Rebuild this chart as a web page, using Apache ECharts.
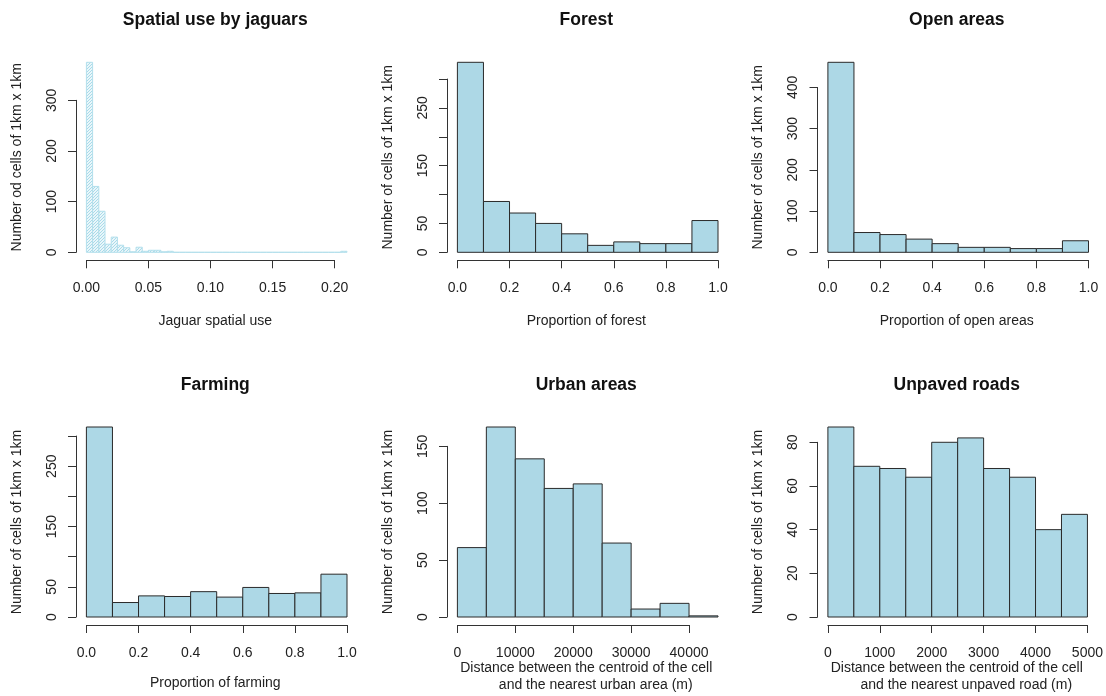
<!DOCTYPE html>
<html>
<head>
<meta charset="utf-8">
<script src="https://cdn.jsdelivr.net/npm/echarts@6/dist/echarts.min.js"></script>
<style>
  html, body { margin: 0; padding: 0; background: #ffffff; }
  #chart { width: 1106px; height: 696px; }
</style>
</head>
<body>
<div id="chart"></div>
<script>
// ---- Histogram data: bin width + counts per bin (bins start at 0) ----
const jaguarBinWidth = 0.005;
const jaguarCounts = [375, 130, 81, 16, 30, 14, 9, 1, 10, 2, 4, 4, 1, 2,
  0, 0, 0, 0, 0, 0, 0, 0, 0, 0, 0, 0, 0, 0, 0, 0, 0, 0, 0, 0, 0, 0, 0, 0, 0, 0, 0,
  2];

const forestBinWidth = 0.1;
const forestCounts = [329, 88, 68, 50, 32, 12, 18, 15, 15, 55];

const openBinWidth = 0.1;
const openCounts = [461, 48, 43, 32, 21, 12, 12, 9, 9, 28];

const farmingBinWidth = 0.1;
const farmingCounts = [315, 24, 35, 34, 42, 33, 49, 39, 40, 71];

const urbanBinWidth = 5000;
const urbanCounts = [61, 167, 139, 113, 117, 65, 7, 12, 1];

const roadsBinWidth = 500;
const roadsCounts = [87, 69, 68, 64, 80, 82, 68, 64, 40, 47];

// ---- Tick labels (one entry per tick, '' = tick without label) ----
const jaguarXTickLabels = ['0.00', '0.05', '0.10', '0.15', '0.20'];
const proportionXTickLabels = ['0.0', '0.2', '0.4', '0.6', '0.8', '1.0'];
const urbanXTickLabels = ['0', '10000', '20000', '30000', '40000'];
const roadsXTickLabels = ['0', '1000', '2000', '3000', '4000', '5000'];

const jaguarYTickLabels = ['0', '100', '200', '300'];
const forestYTickLabels = ['0', '50', '', '150', '', '250', ''];
const openYTickLabels = ['0', '100', '200', '300', '400'];
const farmingYTickLabels = ['0', '50', '', '150', '', '250', ''];
const urbanYTickLabels = ['0', '50', '100', '150'];
const roadsYTickLabels = ['0', '20', '40', '60', '80'];

// ---- Text ----
const panelTitles = ['Spatial use by jaguars', 'Forest', 'Open areas',
  'Farming', 'Urban areas', 'Unpaved roads'];
const yTitles = ['Number od cells of 1km x 1km', 'Number of cells of 1km x 1km',
  'Number of cells of 1km x 1km', 'Number of cells of 1km x 1km',
  'Number of cells of 1km x 1km', 'Number of cells of 1km x 1km'];
const xTitles = [
  ['Jaguar spatial use'],
  ['Proportion of forest'],
  ['Proportion of open areas'],
  ['Proportion of farming'],
  ['Distance between the centroid of the cell', 'and the nearest urban area (m)'],
  ['Distance between the centroid of the cell', 'and the nearest unpaved road (m)']
];

// ---- Layout (base-graphics style: axes detached from the data region) ----
const FONT = '"Liberation Sans", Arial, Helvetica, sans-serif';
const TEXT = '#222222';
const AXIS = '#333333';
const COL_AXIS_X = [76, 447, 817.5];   // x of the y-axis line per column
const ROW_ZERO_Y = [252.3, 617];       // y of the count = 0 level per row
const PAD_X = 10.4;                    // gap y-axis line -> first bin
const DATA_W = 260.6;                  // width of the full binned range
const DATA_H = 190;                    // height of the tallest bin
const X_AXIS_OFF = 8;                  // gap count = 0 level -> x-axis line
const PLOT_W = 281.5;

const panels = [
  { counts: jaguarCounts, bw: jaguarBinWidth, xInt: 0.05, xLabels: jaguarXTickLabels,
    yInt: 100, yLabels: jaguarYTickLabels, hatched: true },
  { counts: forestCounts, bw: forestBinWidth, xInt: 0.2, xLabels: proportionXTickLabels,
    yInt: 50, yLabels: forestYTickLabels },
  { counts: openCounts, bw: openBinWidth, xInt: 0.2, xLabels: proportionXTickLabels,
    yInt: 100, yLabels: openYTickLabels },
  { counts: farmingCounts, bw: farmingBinWidth, xInt: 0.2, xLabels: proportionXTickLabels,
    yInt: 50, yLabels: farmingYTickLabels },
  { counts: urbanCounts, bw: urbanBinWidth, xInt: 10000, xLabels: urbanXTickLabels,
    yInt: 50, yLabels: urbanYTickLabels },
  { counts: roadsCounts, bw: roadsBinWidth, xInt: 1000, xLabels: roadsXTickLabels,
    yInt: 20, yLabels: roadsYTickLabels }
];

// Fine diagonal hatching used for the shaded histogram
function makeHatch() {
  const s = 3;
  const cv = document.createElement('canvas');
  cv.width = s; cv.height = s;
  const g = cv.getContext('2d');
  g.fillStyle = '#eaf6fa';
  g.fillRect(0, 0, s, s);
  g.strokeStyle = '#a9dbe9';
  g.lineWidth = 1;
  g.beginPath();
  g.moveTo(0, s); g.lineTo(s, 0);
  g.moveTo(-1, 1); g.lineTo(1, -1);
  g.moveTo(s - 1, s + 1); g.lineTo(s + 1, s - 1);
  g.stroke();
  return cv;
}
const hatchFill = { image: makeHatch(), repeat: 'repeat' };

function histRenderer(fill, stroke) {
  return function (params, api) {
    const a = api.coord([api.value(0), 0]);
    const b = api.coord([api.value(1), api.value(2)]);
    return {
      type: 'rect',
      shape: { x: a[0], y: b[1], width: b[0] - a[0], height: a[1] - b[1] },
      style: { fill: fill, stroke: stroke, lineWidth: 1 }
    };
  };
}

const grids = [], xAxes = [], yAxes = [], series = [], graphics = [];

panels.forEach(function (p, i) {
  const col = i % 3, row = Math.floor(i / 3);
  const nTicksX = p.xLabels.length - 1;
  const nTicksY = p.yLabels.length - 1;
  const xMax = p.xInt * nTicksX;
  const yMax = p.yInt * nTicksY;
  const dataMaxX = p.counts.length * p.bw;
  const maxCount = Math.max.apply(null, p.counts);
  const gridW = xMax / dataMaxX * DATA_W;
  const gridH = yMax / maxCount * DATA_H;
  const zeroY = ROW_ZERO_Y[row];
  const axisX = COL_AXIS_X[col];

  grids.push({ left: axisX + PAD_X, top: zeroY - gridH, width: gridW, height: gridH,
    containLabel: false });

  xAxes.push({
    gridIndex: i, type: 'value', min: 0, max: xMax, interval: p.xInt,
    position: 'bottom', offset: X_AXIS_OFF,
    axisLine: { show: true, onZero: false, lineStyle: { color: AXIS, width: 1 } },
    axisTick: { show: true, length: 8, lineStyle: { color: AXIS, width: 1 } },
    axisLabel: { margin: 21, color: TEXT, fontSize: 14, fontFamily: FONT,
      showMinLabel: true, showMaxLabel: true,
      formatter: function (v, idx) { return p.xLabels[idx] !== undefined ? p.xLabels[idx] : ''; } },
    splitLine: { show: false }
  });

  yAxes.push({
    gridIndex: i, type: 'value', min: 0, max: yMax, interval: p.yInt,
    position: 'left', offset: PAD_X,
    axisLine: { show: true, onZero: false, lineStyle: { color: AXIS, width: 1 } },
    axisTick: { show: true, length: 8, lineStyle: { color: AXIS, width: 1 } },
    axisLabel: { rotate: 90, margin: 17, color: TEXT, fontSize: 14, fontFamily: FONT,
      showMinLabel: true, showMaxLabel: true,
      formatter: function (v, idx) { return p.yLabels[idx] !== undefined ? p.yLabels[idx] : ''; } },
    splitLine: { show: false }
  });

  const bins = p.counts.map(function (c, k) { return [k * p.bw, (k + 1) * p.bw, c]; });
  series.push({
    type: 'custom', xAxisIndex: i, yAxisIndex: i, clip: false, silent: true,
    encode: { x: [0, 1], y: 2 },
    renderItem: p.hatched ? histRenderer(hatchFill, '#b3dfec') : histRenderer('#add8e6', '#2a2a2a'),
    data: bins
  });

  const centerX = axisX + PLOT_W / 2;
  // panel title
  graphics.push({ type: 'text', x: centerX - 1.5, y: row === 0 ? 20 : 385,
    style: { text: panelTitles[i], font: 'bold 17.5px ' + FONT, fill: '#111111',
      textAlign: 'center', textVerticalAlign: 'middle' } });
  // y-axis title
  graphics.push({ type: 'text', x: axisX - 59, y: zeroY - 95, rotation: Math.PI / 2,
    style: { text: yTitles[i], font: '14px ' + FONT, fill: TEXT,
      textAlign: 'center', textVerticalAlign: 'middle' } });
  // x-axis title (one or two lines)
  const lines = xTitles[i];
  if (lines.length === 1) {
    graphics.push({ type: 'text', x: centerX - 1.5, y: row === 0 ? 321.5 : 683.5,
      style: { text: lines[0], font: '14px ' + FONT, fill: TEXT,
        textAlign: 'center', textVerticalAlign: 'middle' } });
  } else {
    graphics.push({ type: 'text', x: centerX - 1.5, y: 668.3,
      style: { text: lines[0], font: '14px ' + FONT, fill: TEXT,
        textAlign: 'center', textVerticalAlign: 'middle' } });
    graphics.push({ type: 'text', x: centerX + 8, y: 685,
      style: { text: lines[1], font: '14px ' + FONT, fill: TEXT,
        textAlign: 'center', textVerticalAlign: 'middle' } });
  }
});

const chart = echarts.init(document.getElementById('chart'), null, { renderer: 'canvas' });
chart.setOption({
  backgroundColor: '#ffffff',
  animation: false,
  grid: grids,
  xAxis: xAxes,
  yAxis: yAxes,
  series: series,
  graphic: { elements: graphics }
});
</script>
</body>
</html>
